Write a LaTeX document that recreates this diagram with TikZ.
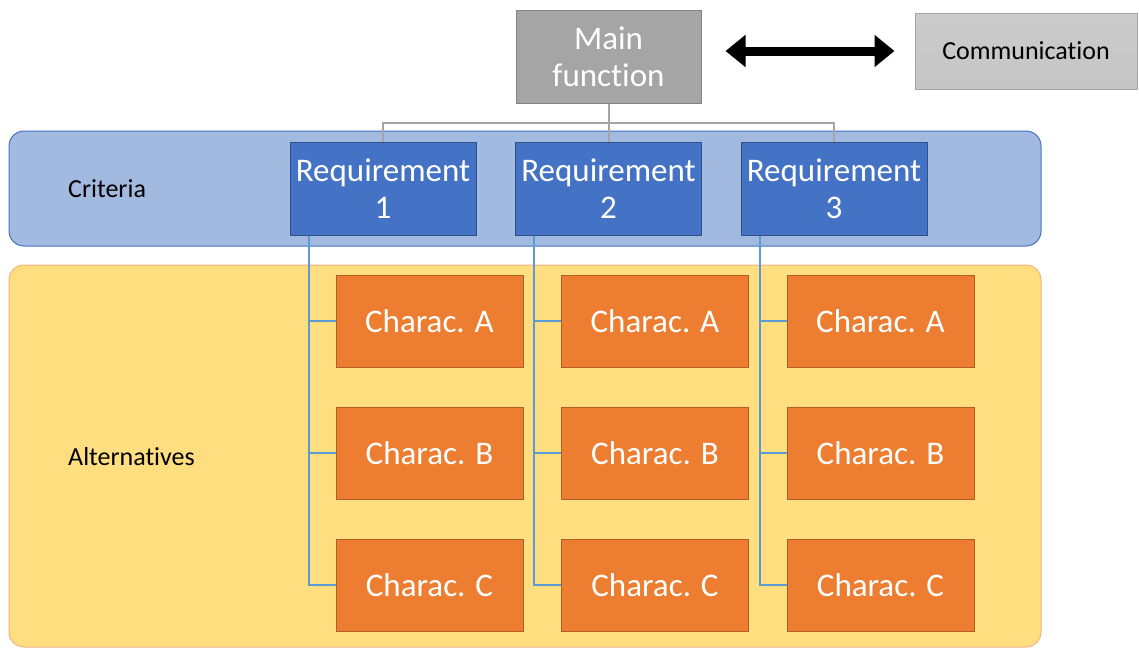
\documentclass[tikz,border=0pt]{standalone}
\usepackage{fontspec}
\setmainfont{Carlito}[Ligatures={NoCommon,NoRequired,NoContextual}]
\usetikzlibrary{trees,arrows.meta}

\definecolor{maingray}{HTML}{A5A5A5}
\definecolor{commgray}{HTML}{D0D0D0}
\definecolor{bandblue}{HTML}{A2B9E0}
\definecolor{reqblue}{HTML}{4472C4}
\definecolor{bandyellow}{HTML}{FFDE80}
\definecolor{charorange}{HTML}{ED7D31}
\definecolor{linkblue}{HTML}{5B9BD5}

\tikzstyle{box}=[rectangle, line width=1pt, inner sep=0pt, align=center, text=white, font={\fontsize{33}{37}\selectfont}]
\tikzstyle{mainbox}=[box, fill=maingray, draw=maingray!80!black, minimum width=185pt, minimum height=93pt]
\tikzstyle{commbox}=[box, top color=commgray!110!white, bottom color=commgray!95!black, draw=maingray, text=black, minimum width=222pt, minimum height=76pt, font={\fontsize{26}{30}\selectfont}]
\tikzstyle{reqbox}=[box, fill=reqblue, draw=reqblue!70!black, minimum width=186pt, minimum height=93pt]
\tikzstyle{charbox}=[box, fill=charorange, draw=charorange!75!black, minimum width=187pt, minimum height=92pt]
\tikzstyle{bandtext}=[anchor=west, inner sep=0pt, font={\fontsize{26}{30}\selectfont}]

\begin{document}
\begin{tikzpicture}[x=1pt, y=1pt,
    level 1/.style={level distance=132pt, sibling distance=225.5pt, edge from parent fork down,
        edge from parent/.style={draw=maingray, line width=2pt}},
    level 2/.style={grow via three points={one child at (46.5,-132.5) and two children at (46.5,-132.5) and (46.5,-264.5)},
        edge from parent/.style={draw=linkblue, line width=2pt},
        edge from parent path={(\tikzparentnode.south west) ++(19,0) |- (\tikzchildnode.west)}}]
    \useasboundingbox (0,0) rectangle (1139,-648);
    \filldraw [fill=bandblue, draw=reqblue, line width=1pt, rounded corners=15pt] (9,-131) rectangle (1041,-246);
    \filldraw [fill=bandyellow, draw=charorange!60!white, line width=1pt, rounded corners=15pt] (9,-265) rectangle (1041,-647);
    \node [bandtext] (criteria) at (68,-189) {Criteria};
    \node [bandtext] (alternatives) at (68,-457) {Alternatives};

    \node [mainbox] (main) at (608.5,-56.5) {Main\\function}
    child { node [reqbox] (req1) {Requirement\\1}
        child { node [charbox] (c1a) {Charac. A} }
        child { node [charbox] (c1b) {Charac. B} }
        child { node [charbox] (c1c) {Charac. C} }
    }
    child { node [reqbox] (req2) {Requirement\\2}
        child { node [charbox] (c2a) {Charac. A} }
        child { node [charbox] (c2b) {Charac. B} }
        child { node [charbox] (c2c) {Charac. C} }
    }
    child { node [reqbox] (req3) {Requirement\\3}
        child { node [charbox] (c3a) {Charac. A} }
        child { node [charbox] (c3b) {Charac. B} }
        child { node [charbox] (c3c) {Charac. C} }
    };

    \node [commbox] (comm) at (1026,-51) {Communication};
    \draw [line width=9pt, {Triangle[length=20pt,width=31pt]}-{Triangle[length=20pt,width=31pt]}, shorten <=24pt, shorten >=20pt] (main.east |- comm.west) -- (comm.west);
\end{tikzpicture}
\end{document}
